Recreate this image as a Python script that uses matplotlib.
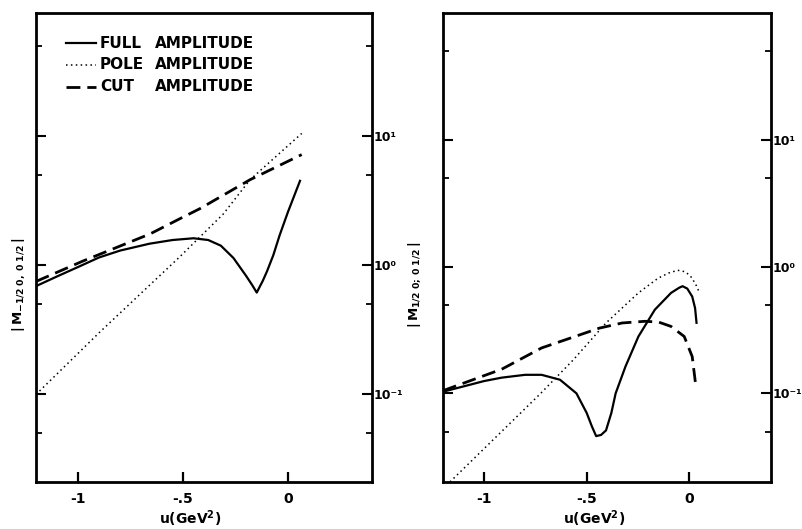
import matplotlib
matplotlib.use("Agg")
import matplotlib.pyplot as plt
from matplotlib.ticker import FixedLocator, NullFormatter

plt.rcParams['font.family'] = ['DejaVu Sans']
plt.rcParams['font.weight'] = 'bold'
plt.rcParams['mathtext.fontset'] = 'dejavusans'
plt.rcParams['mathtext.default'] = 'bf'

# ---------------- data ----------------
# left panel |M_{-1/2 0, 0 1/2}|
left_u_full = [-1.2, -1.1, -1.0, -0.9, -0.8, -0.66, -0.55, -0.45, -0.38, -0.32,
               -0.26, -0.2, -0.17, -0.149, -0.12, -0.1, -0.07, -0.04, 0.0, 0.057]
left_full = [0.69, 0.82, 0.97, 1.15, 1.3, 1.47, 1.57, 1.62, 1.57, 1.42,
             1.14, 0.83, 0.70, 0.615, 0.76, 0.9, 1.2, 1.71, 2.6, 4.51]
left_u_pole = [-1.2, -0.9, -0.514, -0.308, -0.181, 0.065]
left_pole = [0.1, 0.3, 1.17, 2.5, 4.6, 10.5]
left_u_cut = [-1.2, -0.976, -0.657, -0.514, -0.419, -0.181, 0.065]
left_cut = [0.75, 1.08, 1.75, 2.3, 2.75, 4.6, 7.2]

# right panel |M_{1/2 0; 0 1/2}|
right_u_full = [-1.2, -1.0, -0.914, -0.8, -0.72, -0.63, -0.55, -0.5, -0.475, -0.454,
                -0.43, -0.406, -0.38, -0.359, -0.311, -0.248, -0.168, -0.089, -0.05,
                -0.033, -0.01, 0.014, 0.028, 0.035]
right_full = [0.103, 0.125, 0.133, 0.14, 0.14, 0.128, 0.1, 0.07, 0.055, 0.046,
              0.047, 0.051, 0.07, 0.1, 0.163, 0.281, 0.457, 0.62, 0.68,
              0.70, 0.67, 0.58, 0.47, 0.36]
right_u_pole = [-1.2, -0.724, -0.565, -0.406, -0.248, -0.152, -0.1, -0.057, -0.02,
                0.006, 0.03, 0.046]
right_pole = [0.0177, 0.1, 0.184, 0.359, 0.62, 0.81, 0.89, 0.935, 0.91,
              0.84, 0.73, 0.64]
right_u_cut = [-1.2, -0.914, -0.72, -0.438, -0.327, -0.216, -0.15, -0.089, -0.025,
               0.014, 0.03]
right_cut = [0.105, 0.155, 0.228, 0.327, 0.359, 0.37, 0.365, 0.337, 0.281,
             0.195, 0.12]

x_ticks = [-1.0, -0.5, 0.0]
x_ticklabels = ['-1', '-.5', '0']
y_major = [0.1, 1.0, 10.0]
y_major_labels = ['10\u207b\u00b9', '10\u2070', '10\u00b9']
y_minor = [0.05, 0.5, 5.0, 50.0]

legend_names = ['FULL', 'POLE', 'CUT']
legend_word = 'AMPLITUDE'

# ---------------- figure ----------------
fig = plt.figure(figsize=(8.02, 5.29), dpi=100)
axL = fig.add_axes([0.0449, 0.0889, 0.419, 0.8866])
axR = fig.add_axes([0.5524, 0.0889, 0.4095, 0.8866])

solid_kw = dict(color='black', lw=1.6, linestyle='-')
pole_kw = dict(color='black', lw=1.1, linestyle=(0, (1, 2.2)))
cut_kw = dict(color='black', lw=2.0, linestyle=(0, (5, 2.5)))


def style(ax, ylim, ylabel, lab_x):
    ax.set_yscale('log')
    ax.set_xlim(-1.2, 0.4)
    ax.set_ylim(*ylim)
    for s in ax.spines.values():
        s.set_linewidth(2.0)
    ax.set_xticks(x_ticks)
    ax.set_xticklabels(x_ticklabels, fontsize=10, fontweight='bold')
    ax.yaxis.set_major_locator(FixedLocator(y_major))
    ax.yaxis.set_minor_locator(FixedLocator(y_minor))
    ax.set_yticklabels(y_major_labels, fontsize=9, fontweight='bold')
    ax.yaxis.set_minor_formatter(NullFormatter())
    ax.tick_params(axis='x', direction='in', length=7, width=1.6, pad=7,
                   top=False, bottom=True)
    ax.tick_params(axis='y', which='major', direction='in', length=7, width=1.5,
                   left=True, right=True, labelleft=False, labelright=True, pad=1)
    ax.tick_params(axis='y', which='minor', direction='in', length=4, width=1.3,
                   left=True, right=True, labelleft=False, labelright=False)
    ax.set_xlabel(r'u(GeV$^{2}$)', fontsize=10, fontweight='bold')
    ax.xaxis.set_label_coords(0.46, -0.056)
    ax.set_ylabel(ylabel, fontsize=9.5)
    ax.yaxis.set_label_coords(lab_x, 0.42)


axL.plot(left_u_full, left_full, **solid_kw)
axL.plot(left_u_pole, left_pole, **pole_kw)
axL.plot(left_u_cut, left_cut, **cut_kw)
style(axL, (0.021, 90), r'$|\,M_{-1/2\;0,\;0\;1/2}\,|$', -0.028)

axR.plot(right_u_full, right_full, **solid_kw)
axR.plot(right_u_pole, right_pole, **pole_kw)
axR.plot(right_u_cut, right_cut, **cut_kw)
style(axR, (0.020, 100), r'$|\,M_{1/2\;0;\;0\;1/2}\,|$', -0.06)

# legend drawn by hand (as in the figure)
styles = [solid_kw, pole_kw, cut_kw]
rows_y = [0.935, 0.89, 0.843]
for name, kw, yy in zip(legend_names, styles, rows_y):
    axL.plot([0.09, 0.18], [yy, yy], transform=axL.transAxes, **kw)
    axL.text(0.19, yy, name, transform=axL.transAxes, fontsize=11,
             fontweight='bold', va='center', ha='left')
    axL.text(0.355, yy, legend_word, transform=axL.transAxes, fontsize=11,
             fontweight='bold', va='center', ha='left')

fig.savefig('out.png', dpi=100)
